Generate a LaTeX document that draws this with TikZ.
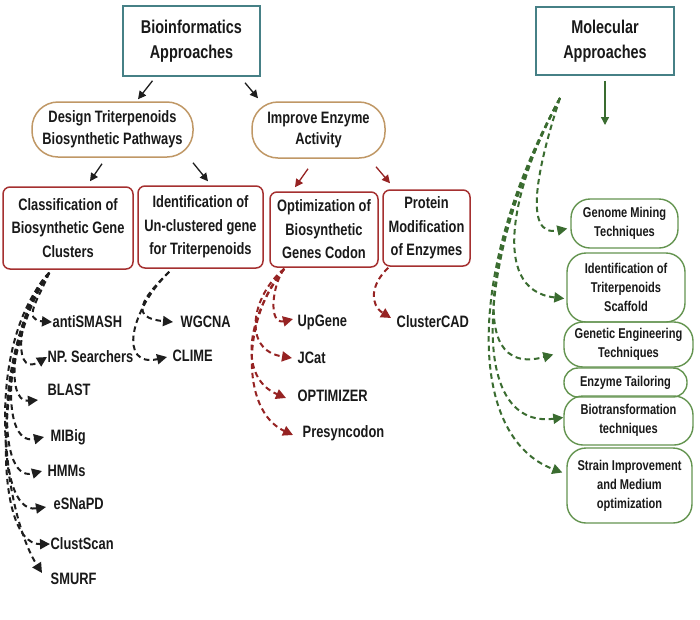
\documentclass[tikz,border=0pt]{standalone}
\usepackage{fontspec}
\setmainfont{Liberation Sans}[FakeStretch=0.78]
\usetikzlibrary{arrows.meta,calc}
\definecolor{txt}{RGB}{25,25,25}
\definecolor{tealb}{RGB}{70,128,134}
\definecolor{tanb}{RGB}{192,152,102}
\definecolor{redb}{RGB}{165,48,48}
\definecolor{reda}{RGB}{150,35,35}
\definecolor{greenb}{RGB}{100,148,80}
\definecolor{greena}{RGB}{58,108,48}
\definecolor{blacka}{RGB}{30,30,30}
\begin{document}
\begin{tikzpicture}[x=1pt,y=-1pt,
  box/.style={draw, line width=1.5pt, align=center, text=txt, inner sep=0pt, font=\bfseries\fontsize{16.5}{23.5}\selectfont},
  titlebox/.style={box, draw=tealb, font=\bfseries\fontsize{18.5}{24.5}\selectfont},
  pill/.style={box, draw=tanb, rounded corners=26pt, font=\bfseries\fontsize{16.5}{21.7}\selectfont},
  redbox/.style={box, draw=redb, rounded corners=7pt},
  gbox/.style={box, draw=greenb, line width=1.4pt, rounded corners=19pt, font=\bfseries\fontsize{14.2}{19}\selectfont},
  lbl/.style={anchor=west, inner sep=0.5pt, text=txt, font=\bfseries\fontsize{16.5}{18}\selectfont},
  solidarr/.style={-{Triangle[length=8pt,width=8pt]}, line width=1.3pt},
  dasharr/.style={-{Triangle[length=10pt,width=10pt]}, line width=2pt, dash pattern=on 5.5pt off 3.8pt}
]
\useasboundingbox (0,0) rectangle (700,619);
\fill[white] (0,0) rectangle (700,619);

% top boxes
\node[titlebox, minimum width=137pt, minimum height=70pt] (bio) at (191.5,41) {Bioinformatics\\Approaches};
\node[titlebox, minimum width=138pt, minimum height=68pt] (mol) at (605,41) {Molecular\\Approaches};

% second level
\node[pill, minimum width=161pt, minimum height=55pt] (design) at (112.5,129.5) {Design Triterpenoids\\Biosynthetic Pathways};
\node[pill, minimum width=133pt, minimum height=56pt] (improve) at (318.5,130) {Improve Enzyme\\Activity};

% third level
\node[redbox, minimum width=130pt, minimum height=82pt] (cls) at (68,228) {Classification of\\Biosynthetic Gene\\Clusters};
\node[redbox, minimum width=125pt, minimum height=82pt] (ident) at (200.5,227) {Identification of\\Un-clustered gene\\for Triterpenoids};
\node[redbox, minimum width=108pt, minimum height=75pt] (opt) at (324,229.5) {Optimization of\\Biosynthetic\\Genes Codon};
\node[redbox, minimum width=87pt, minimum height=76pt] (prot) at (426.5,228) {Protein\\Modification\\of Enzymes};

% green column
\node[gbox, minimum width=107pt, minimum height=49pt] (genome) at (624.5,223.5) {Genome Mining\\Techniques};
\node[gbox, minimum width=118pt, minimum height=69pt] (idt) at (626,287.5) {Identification of\\Triterpenoids\\Scaffold};
\node[gbox, minimum width=129pt, minimum height=45pt] (gen) at (628.5,344.5) {Genetic Engineering\\Techniques};
\node[gbox, rounded corners=14pt, minimum width=123pt, minimum height=29pt] (enz) at (625.5,382.5) {Enzyme Tailoring};
\node[gbox, minimum width=129pt, minimum height=49pt] (btf) at (628.5,420.5) {Biotransformation\\techniques};
\node[gbox, minimum width=125pt, minimum height=75pt] (strain) at (629.5,485.5) {Strain Improvement\\and Medium\\optimization};

% labels
\node[lbl] (ant) at (52,322) {antiSMASH};
\node[lbl] (np) at (47,357) {NP. Searchers};
\node[lbl] (blast) at (47,390) {BLAST};
\node[lbl] (mib) at (50,437) {MIBig};
\node[lbl] (hmm) at (47,471) {HMMs};
\node[lbl] (es) at (53,504) {eSNaPD};
\node[lbl] (cs) at (50,544) {ClustScan};
\node[lbl] (smurf) at (50,579) {SMURF};
\node[lbl] (wg) at (180,322) {WGCNA};
\node[lbl] (cl) at (172,356) {CLIME};
\node[lbl] (up) at (297,322) {UpGene};
\node[lbl] (jc) at (297,358) {JCat};
\node[lbl] (optz) at (297,396) {OPTIMIZER};
\node[lbl] (pre) at (302,433) {Presyncodon};
\node[lbl] (ccad) at (396,322) {ClusterCAD};

% solid arrows
\draw[solidarr, blacka] ($(bio.south)+(-39,4)$) -- ($(design.north)+(25.5,-2)$);
\draw[solidarr, blacka] ($(bio.south)+(53.5,6)$) -- ($(improve.north)+(-60.5,-3)$);
\draw[solidarr, blacka] ($(design.south)+(-10.5,6)$) -- ($(cls.north)+(22,-5)$);
\draw[solidarr, blacka] ($(design.south)+(80.5,5)$) -- ($(ident.north)+(7.5,-4)$);
\draw[solidarr, reda] ($(improve.south)+(-10.5,10)$) -- ($(opt.north)+(-29,-4)$);
\draw[solidarr, reda] ($(improve.south)+(57.5,8)$) -- ($(prot.north)+(-36.5,-6)$);
\coordinate (gtip) at (605,125);
\draw[solidarr, greena] ($(mol.south)+(0,5)$) -- (gtip);

% black dashed from classification
\begin{scope}[blacka]
\coordinate (bs) at ($(cls.south west)+(47,3)$);
\draw[dasharr] (bs) .. controls (38,300) and (22,320) .. (ant.west);
\draw[dasharr] (bs) .. controls (20,300) and (9,380) .. (np.west);
\draw[dasharr] (bs) .. controls (12,320) and (4,403) .. ($(blast.west)+(-9,10)$);
\draw[dasharr] (bs) .. controls (5,330) and (-2,447) .. ($(mib.west)+(-6,0)$);
\draw[dasharr] (bs) .. controls (0,335) and (-7,484) .. ($(hmm.west)+(-5,0)$);
\draw[dasharr] (bs) .. controls (-3,345) and (-8,515) .. ($(es.west)+(-7,3)$);
\draw[dasharr] (bs) .. controls (-5,350) and (-9,545) .. (cs.west);
\draw[dasharr] (bs) .. controls (-20,350) and (5,515) .. ($(smurf.west)+(-8,-6)$);
% from identification
\coordinate (is) at ($(ident.south west)+(32,3)$);
\draw[dasharr] (is) .. controls (140,300) and (130,318) .. ($(wg.west)+(-7,0)$);
\draw[dasharr] (is) .. controls (130,310) and (118,368) .. ($(cl.west)+(-5,1)$);
\end{scope}

% red dashed
\begin{scope}[reda]
\coordinate (rs) at ($(opt.south west)+(15,1)$);
\draw[dasharr] (rs) .. controls (272,285) and (268,325) .. ($(up.west)+(-4,-3)$);
\draw[dasharr] (rs) .. controls (252,295) and (241,350) .. ($(jc.west)+(-5,0)$);
\draw[dasharr] (rs) .. controls (245,320) and (239,378) .. ($(optz.west)+(-11,2)$);
\draw[dasharr] (rs) .. controls (243,315) and (239,410) .. ($(pre.west)+(-9,2)$);
\coordinate (ps) at ($(prot.south west)+(6,1)$);
\draw[dasharr] (ps) .. controls (370,285) and (370,305) .. ($(ccad.west)+(-5,-4)$);
\end{scope}

% green dashed
\begin{scope}[greena]
\coordinate (gs) at (560,98);
\draw[dasharr] (gs) .. controls (538,165) and (522,238) .. ($(genome.west)+(-3,5)$);
\draw[dasharr] (gs) .. controls (515,180) and (487,290) .. ($(idt.west)+(-2,11)$);
\draw[dasharr] (gs) .. controls (492,230) and (460,380) .. ($(gen.west)+(-10,10)$);
\draw[dasharr] (gs) .. controls (478,250) and (465,430) .. ($(btf.west)+(0,-3)$);
\draw[dasharr] (gs) .. controls (465,270) and (467,437) .. ($(strain.west)+(-4,-13)$);
\end{scope}
\end{tikzpicture}
\end{document}
